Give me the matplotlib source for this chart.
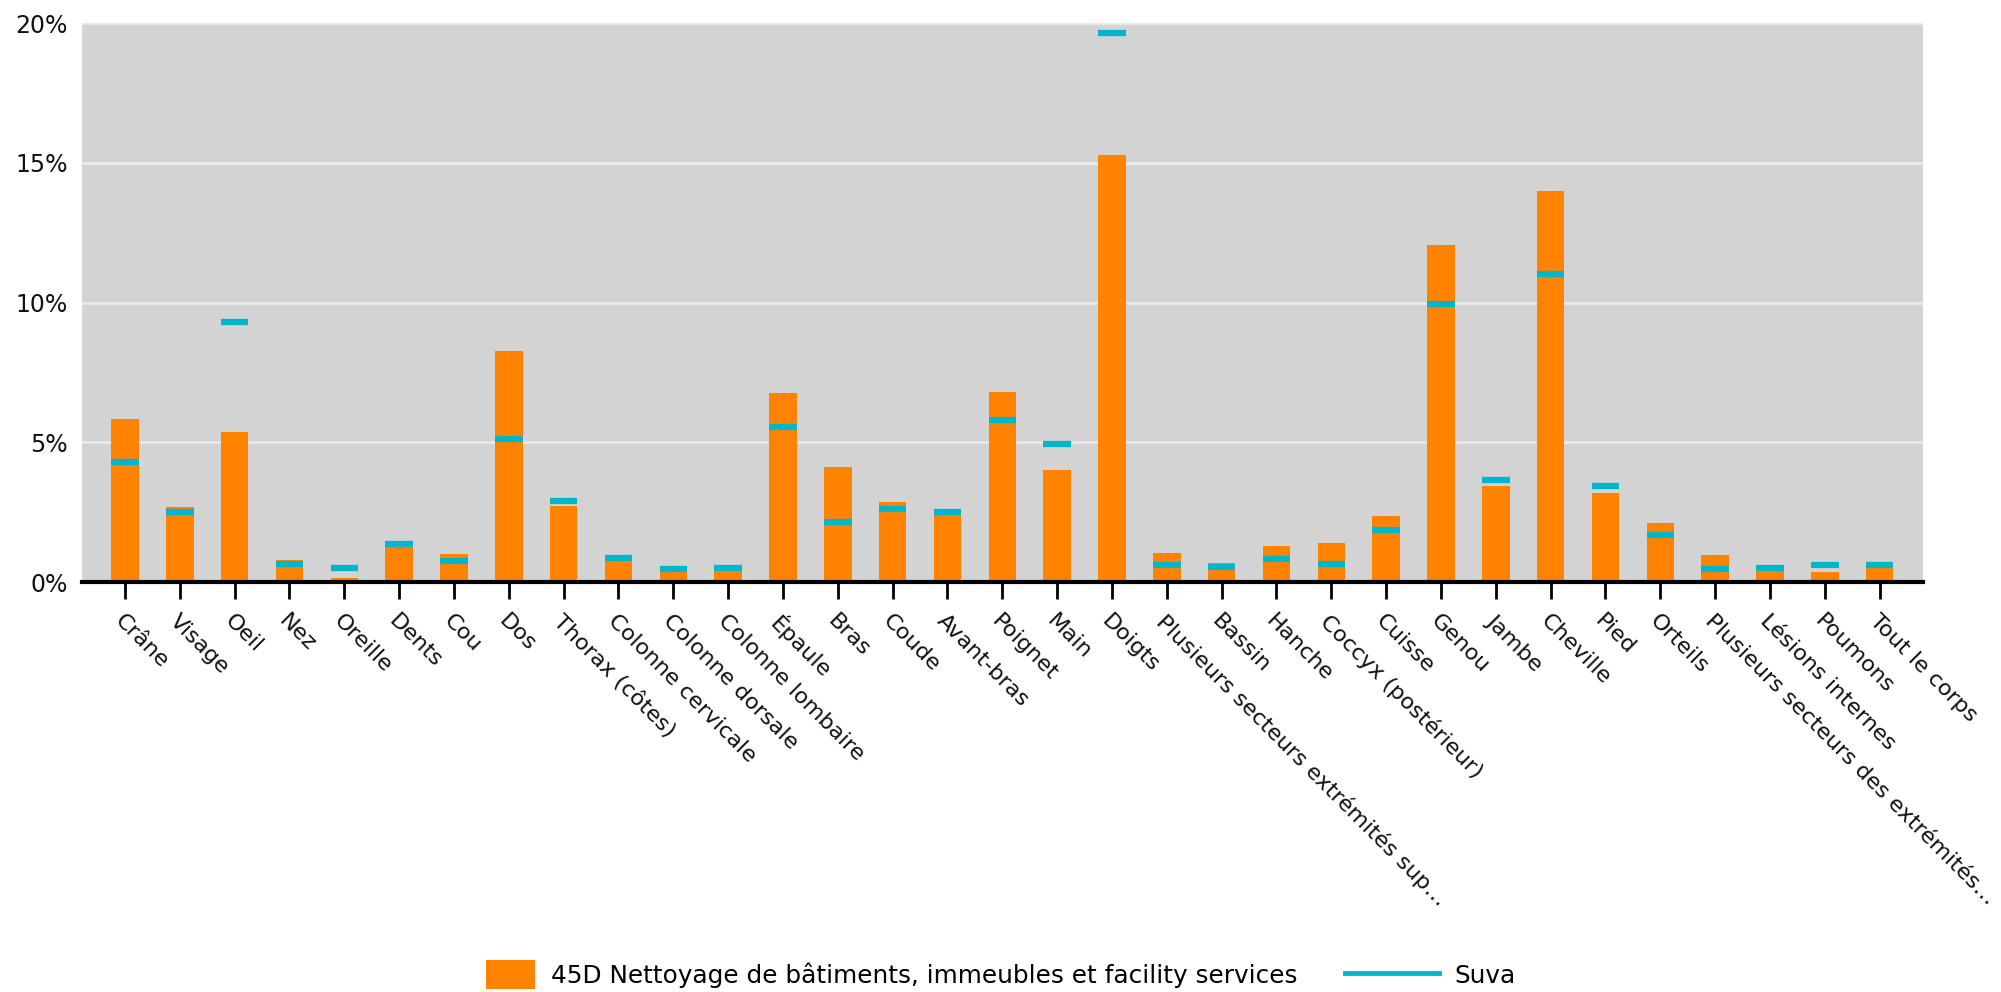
import numpy as np
import matplotlib.pyplot as plt
from matplotlib.lines import Line2D
from matplotlib.patches import Patch, Rectangle
from matplotlib.legend_handler import HandlerPatch
from matplotlib.ticker import FuncFormatter

# ── Données (parts en %) ─────────────────────────────────────
categories = [
    "Crâne", "Visage", "Oeil", "Nez", "Oreille", "Dents", "Cou", "Dos",
    "Thorax (côtes)", "Colonne cervicale", "Colonne dorsale", "Colonne lombaire",
    "Épaule", "Bras", "Coude", "Avant-bras", "Poignet", "Main", "Doigts",
    "Plusieurs secteurs extrémités sup…", "Bassin", "Hanche", "Coccyx (postérieur)",
    "Cuisse", "Genou", "Jambe", "Cheville", "Pied", "Orteils",
    "Plusieurs secteurs des extrémités…", "Lésions internes", "Poumons",
    "Tout le corps",
]

branche = [5.82, 2.70, 5.35, 0.78, 0.16, 1.30, 1.00, 8.26,
           2.73, 0.78, 0.53, 0.59,
           6.75, 4.12, 2.85, 2.45, 6.79, 3.99, 15.29,
           1.04, 0.69, 1.30, 1.39,
           2.36, 12.06, 3.43, 13.99, 3.20, 2.11,
           0.95, 0.59, 0.37, 0.67]

suva = [4.31, 2.50, 9.31, 0.66, 0.49, 1.37, 0.74, 5.13,
        2.89, 0.85, 0.47, 0.49,
        5.54, 2.15, 2.62, 2.52, 5.80, 4.94, 19.64,
        0.60, 0.53, 0.81, 0.63,
        1.85, 9.93, 3.64, 11.03, 3.44, 1.69,
        0.48, 0.49, 0.62, 0.62]

yticks = [0, 5, 10, 15, 20]

label_branche = "45D Nettoyage de bâtiments, immeubles et facility services"
label_suva = "Suva"

ORANGE = "#ff8300"
CYAN = "#00b6cb"

plt.rcParams["font.family"] = ["DejaVu Sans"]

fig = plt.figure(figsize=(20.01, 9.92), dpi=100)
ax = fig.add_axes([0.0408, 0.4133, 0.9202, 0.5635])
ax.set_facecolor("#d3d3d3")

x = np.arange(len(categories))
w = 0.5

ax.bar(x, branche, width=w, color=ORANGE, zorder=2)
ax.hlines(suva, x - w / 2, x + w / 2, colors=CYAN, linewidth=4.5, zorder=3)

ax.set_xlim(-0.79, len(categories) - 1 + 0.79)
ax.set_ylim(0, 20)
ax.set_yticks(yticks)
ax.yaxis.set_major_formatter(FuncFormatter(lambda v, p: f"{v:.0f}%"))
ax.grid(axis="y", color="#eaeaea", linewidth=2, zorder=1)
ax.set_axisbelow(True)

for s in ["left", "right", "top"]:
    ax.spines[s].set_visible(False)
ax.spines["bottom"].set_linewidth(3)
ax.spines["bottom"].set_color("black")
ax.spines["bottom"].set_zorder(4)

ax.tick_params(axis="y", length=0, labelsize=17, pad=10, labelcolor="#111111")
ax.tick_params(axis="x", length=12, width=2, color="black", pad=9)
ax.set_xticks(x)
ax.set_xticklabels(categories, rotation=-45, ha="left", va="top",
                   rotation_mode="anchor", fontsize=16.2, color="#111111")


# carré orange plus court que le trait Suva dans la légende
def square(legend, orig_handle, xdescent, ydescent, width, height, fontsize):
    sw, sh = 35, 21
    return Rectangle((-xdescent + width - sw, -ydescent + (height - sh) / 2),
                     sw, sh)


handles = [Patch(facecolor=ORANGE, edgecolor="none"),
           Line2D([0], [0], color=CYAN, linewidth=3.5)]
fig.legend(handles, [label_branche, label_suva], loc="center",
           bbox_to_anchor=(0.489, 0.0171), ncol=2, frameon=False, fontsize=17.8,
           handlelength=3.8, handleheight=1.2, handletextpad=0.65,
           columnspacing=1.9, borderpad=0.2,
           handler_map={Patch: HandlerPatch(patch_func=square)})

fig.savefig("out.png", dpi=100)
